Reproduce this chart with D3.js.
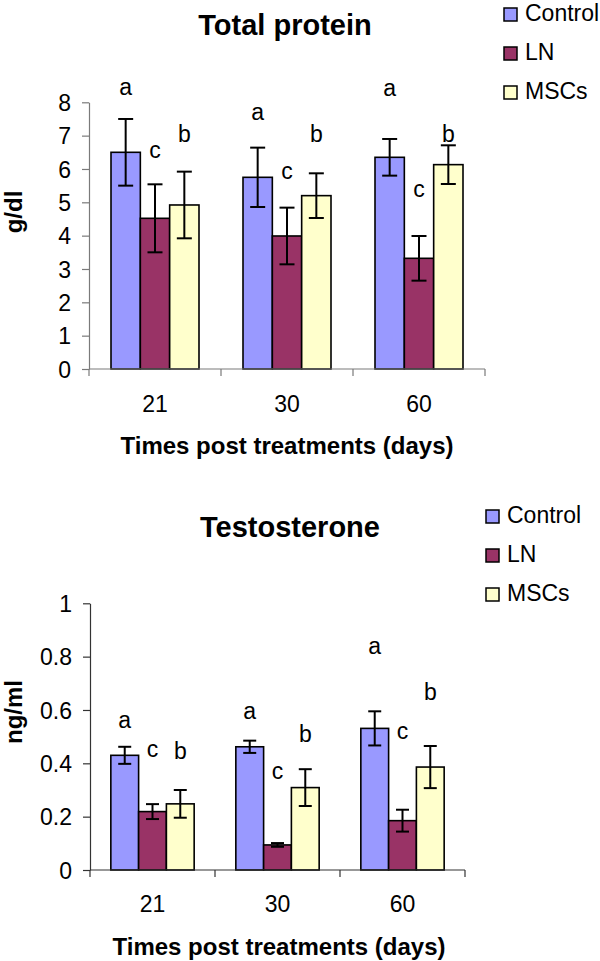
<!DOCTYPE html>
<html>
<head>
<meta charset="utf-8">
<script src="https://cdn.jsdelivr.net/npm/d3@7/dist/d3.min.js"></script>
<style>
  html, body { margin: 0; padding: 0; background: #fff; }
  svg { display: block; }
  text { font-family: "Liberation Sans", Arial, Helvetica, sans-serif; fill: #000; }
</style>
</head>
<body>
<svg id="chart" width="600" height="961"></svg>
<script>
// ---------- DATA ----------
const categories = ["21", "30", "60"];
const seriesNames = ["Control", "LN", "MSCs"];

// Total protein (g/dl)
const proteinControl    = [6.50, 5.75, 6.35];
const proteinControlErr = [1.00, 0.89, 0.55];
const proteinLN         = [4.52, 3.99, 3.32];
const proteinLNErr      = [1.02, 0.85, 0.67];
const proteinMSCs       = [4.92, 5.20, 6.13];
const proteinMSCsErr    = [1.00, 0.67, 0.58];
const proteinLetters    = [["a", "c", "b"], ["a", "c", "b"], ["a", "c", "b"]];
const proteinLetterLevels = [[8.42, 6.52, 7.07], [7.67, 5.90, 7.07], [8.39, 5.34, 7.07]];
const proteinTicks = [0, 1, 2, 3, 4, 5, 6, 7, 8];

// Testosterone (ng/ml)
const testControl    = [0.430, 0.462, 0.531];
const testControlErr = [0.032, 0.023, 0.064];
const testLN         = [0.219, 0.094, 0.185];
const testLNErr      = [0.028, 0.007, 0.041];
const testMSCs       = [0.248, 0.309, 0.386];
const testMSCsErr    = [0.052, 0.069, 0.079];
const testLetters    = [["a", "c", "b"], ["a", "c", "b"], ["a", "c", "b"]];
const testLetterLevels = [[0.556, 0.447, 0.447], [0.590, 0.363, 0.510], [0.834, 0.513, 0.669]];
const testTicks = [0, 0.2, 0.4, 0.6, 0.8, 1];

const colors = ["#9999FF", "#993366", "#FFFFCC"];

// ---------- DRAW ----------
const svg = d3.select("#chart");

function drawChart(cfg) {
  const g = svg.append("g");
  const x0 = d3.scaleBand().domain(categories).range([cfg.left, cfg.right]).padding(0);
  const bw = x0.bandwidth();
  const x1 = d3.scaleBand().domain(seriesNames).range([bw / 6, bw * 5 / 6]).padding(0);
  const y = d3.scaleLinear().domain(cfg.domain).range([cfg.bottom, cfg.top]);

  const rows = [];
  categories.forEach((c, ci) => {
    seriesNames.forEach((s, si) => {
      rows.push({
        cat: c, ser: s, si: si,
        v: cfg.means[si][ci], e: cfg.errs[si][ci],
        letter: cfg.letters[ci][si], level: cfg.levels[ci][si]
      });
    });
  });

  // bars
  g.selectAll("rect.bar").data(rows).enter().append("rect")
    .attr("class", "bar")
    .attr("x", d => x0(d.cat) + x1(d.ser))
    .attr("width", x1.bandwidth())
    .attr("y", d => y(d.v))
    .attr("height", d => y(0) - y(d.v))
    .attr("fill", d => colors[d.si])
    .attr("stroke", "#000")
    .attr("stroke-width", 1.6);

  // axes
  const yAxis = d3.axisLeft(y).tickValues(cfg.ticks).tickSize(7).tickSizeOuter(0)
    .tickFormat(d3.format("~g"));
  const ya = g.append("g").attr("transform", `translate(${cfg.left},0)`).call(yAxis);
  ya.select(".domain").attr("stroke", cfg.axisColor).attr("stroke-width", 1.2);
  ya.selectAll(".tick line").attr("stroke", cfg.axisColor).attr("stroke-width", 1.2);
  ya.selectAll(".tick text")
    .attr("x", -18).attr("dy", "0.36em")
    .style("font-size", "23px")
    .style("font-family", "'Liberation Sans', Arial, sans-serif")
    .attr("fill", "#000");

  // x axis line + category boundary ticks
  g.append("line")
    .attr("x1", cfg.left).attr("x2", cfg.right)
    .attr("y1", y(0)).attr("y2", y(0))
    .attr("stroke", cfg.axisColor).attr("stroke-width", 1.2);
  const bounds = categories.map(c => x0(c)).concat([cfg.right]);
  g.selectAll("line.xt").data(bounds).enter().append("line")
    .attr("class", "xt")
    .attr("x1", d => d).attr("x2", d => d)
    .attr("y1", y(0)).attr("y2", y(0) + 7)
    .attr("stroke", cfg.axisColor).attr("stroke-width", 1.2);
  g.selectAll("text.xl").data(categories).enter().append("text")
    .attr("class", "xl")
    .attr("x", d => x0(d) + bw / 2)
    .attr("y", cfg.catLabelY)
    .attr("text-anchor", "middle")
    .style("font-size", "23px")
    .text(d => d);

  // error bars
  const cap = cfg.cap;
  const eb = g.selectAll("g.eb").data(rows).enter().append("g").attr("class", "eb");
  eb.append("line")
    .attr("x1", d => x0(d.cat) + x1(d.ser) + x1.bandwidth() / 2)
    .attr("x2", d => x0(d.cat) + x1(d.ser) + x1.bandwidth() / 2)
    .attr("y1", d => y(d.v + d.e)).attr("y2", d => y(d.v - d.e))
    .attr("stroke", "#000").attr("stroke-width", 2);
  [1, -1].forEach(sgn => {
    eb.append("line")
      .attr("x1", d => x0(d.cat) + x1(d.ser) + x1.bandwidth() / 2 - cap / 2)
      .attr("x2", d => x0(d.cat) + x1(d.ser) + x1.bandwidth() / 2 + cap / 2)
      .attr("y1", d => y(d.v + sgn * d.e)).attr("y2", d => y(d.v + sgn * d.e))
      .attr("stroke", "#000").attr("stroke-width", 2);
  });

  // significance letters
  g.selectAll("text.let").data(rows).enter().append("text")
    .attr("class", "let")
    .attr("x", d => x0(d.cat) + x1(d.ser) + x1.bandwidth() / 2)
    .attr("y", d => y(d.level))
    .attr("dy", d => d.letter === "b" ? "0.36em" : "0.27em")
    .attr("text-anchor", "middle")
    .style("font-size", "23px")
    .text(d => d.letter);

  // title
  g.append("text")
    .attr("x", cfg.titleX).attr("y", cfg.titleY)
    .attr("text-anchor", "middle")
    .style("font-size", "29px").style("font-weight", "bold")
    .text(cfg.title);

  // x axis title
  g.append("text")
    .attr("x", cfg.xTitleX).attr("y", cfg.xTitleY)
    .attr("text-anchor", "middle")
    .style("font-size", "24px").style("font-weight", "bold")
    .text("Times post treatments (days)");

  // y axis title
  g.append("text")
    .attr("transform", `translate(${cfg.yTitleX},${cfg.yTitleY}) rotate(-90)`)
    .attr("text-anchor", "middle")
    .style("font-size", cfg.yTitleSize).style("font-weight", "bold")
    .text(cfg.yTitle);

  // legend
  const lg = g.append("g");
  seriesNames.forEach((s, i) => {
    const by = cfg.legendY + i * cfg.legendStep;
    lg.append("rect")
      .attr("x", cfg.legendX).attr("y", by - 13)
      .attr("width", 13).attr("height", 13)
      .attr("fill", colors[i]).attr("stroke", "#000").attr("stroke-width", 1.5);
    lg.append("text")
      .attr("x", cfg.legendX + 21).attr("y", by)
      .style("font-size", "23px")
      .text(s);
  });
}

drawChart({
  left: 89, right: 485, bottom: 369, top: 102.3, domain: [0, 8],
  ticks: proteinTicks,
  means: [proteinControl, proteinLN, proteinMSCs],
  errs: [proteinControlErr, proteinLNErr, proteinMSCsErr],
  letters: proteinLetters, levels: proteinLetterLevels,
  axisColor: "#7a7a7a", cap: 15,
  catLabelY: 412,
  title: "Total protein", titleX: 285, titleY: 35,
  xTitleX: 287, xTitleY: 454,
  yTitle: "g/dl", yTitleSize: "24px", yTitleX: 22, yTitleY: 212,
  legendX: 504, legendY: 21, legendStep: 39
});

drawChart({
  left: 90, right: 465, bottom: 870, top: 603.3, domain: [0, 1],
  ticks: testTicks,
  means: [testControl, testLN, testMSCs],
  errs: [testControlErr, testLNErr, testMSCsErr],
  letters: testLetters, levels: testLetterLevels,
  axisColor: "#333", cap: 13,
  catLabelY: 912,
  title: "Testosterone", titleX: 290, titleY: 537,
  xTitleX: 279, xTitleY: 955,
  yTitle: "ng/ml", yTitleSize: "24px", yTitleX: 22, yTitleY: 712,
  legendX: 486, legendY: 523, legendStep: 39
});
</script>
</body>
</html>
